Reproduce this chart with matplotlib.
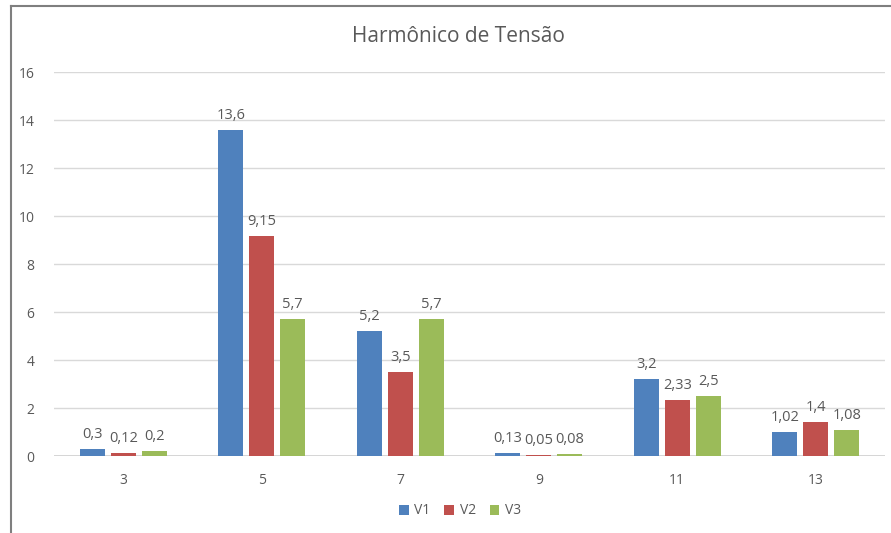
import matplotlib.pyplot as plt
import numpy as np
from matplotlib.lines import Line2D

# dados
categorias = ['3', '5', '7', '9', '11', '13']
v1 = [0.3, 13.6, 5.2, 0.13, 3.2, 1.02]
v2 = [0.12, 9.15, 3.5, 0.05, 2.33, 1.4]
v3 = [0.2, 5.7, 5.7, 0.08, 2.5, 1.08]
rotulos_v1 = ['0,3', '13,6', '5,2', '0,13', '3,2', '1,02']
rotulos_v2 = ['0,12', '9,15', '3,5', '0,05', '2,33', '1,4']
rotulos_v3 = ['0,2', '5,7', '5,7', '0,08', '2,5', '1,08']

plt.rcParams['font.family'] = ['Open Sans', 'DejaVu Sans']
cinza = '#595959'

fig = plt.figure(figsize=(8.91, 5.33), dpi=100)
ax = fig.add_axes([54 / 891, 77 / 533, 831 / 891, 384 / 533])

x = np.arange(len(categorias))
largura = 0.18
passo = 0.224
series = [(v1, rotulos_v1, '#4F81BD', 'V1'),
          (v2, rotulos_v2, '#C0504D', 'V2'),
          (v3, rotulos_v3, '#9BBB59', 'V3')]

for i, (vals, rots, cor, nome) in enumerate(series):
    barras = ax.bar(x + (i - 1) * passo, vals, largura, color=cor, label=nome, zorder=3)
    ax.bar_label(barras, labels=rots, padding=5, fontsize=10.5, color=cinza)

ax.set_xlim(-0.5, len(categorias) - 0.5)
ax.set_ylim(0, 16)
ax.set_yticks(range(0, 17, 2))
ax.set_xticks(x)
ax.set_xticklabels(categorias)
ax.yaxis.grid(True, color='#D9D9D9', linewidth=1, zorder=0)
ax.axhline(0, color='#D0D0D0', linewidth=1.2, zorder=2)
for s in ['top', 'right', 'left', 'bottom']:
    ax.spines[s].set_visible(False)
ax.tick_params(length=0, colors=cinza, labelsize=10)
ax.tick_params(axis='x', pad=12)
ax.tick_params(axis='y', pad=14)

fig.text(458 / 891, 1 - 37 / 533, 'Harmônico de Tensão', ha='center', va='center',
         fontsize=15, color=cinza)

ax.legend(loc='center', bbox_to_anchor=(460 / 891, 1 - 511 / 533),
          bbox_transform=fig.transFigure, ncol=3, frameon=False,
          fontsize=10, labelcolor=cinza, handlelength=0.7, handleheight=0.7,
          handletextpad=0.4, columnspacing=1.0)

# moldura do gráfico
fig.add_artist(Line2D([11 / 891, 11 / 891], [0, 1 - 6 / 533], transform=fig.transFigure,
                      color='#7F7F7F', linewidth=1.5))
fig.add_artist(Line2D([11 / 891, 1], [1 - 6 / 533, 1 - 6 / 533], transform=fig.transFigure,
                      color='#7F7F7F', linewidth=1.5))

fig.savefig('out.png', dpi=100)
